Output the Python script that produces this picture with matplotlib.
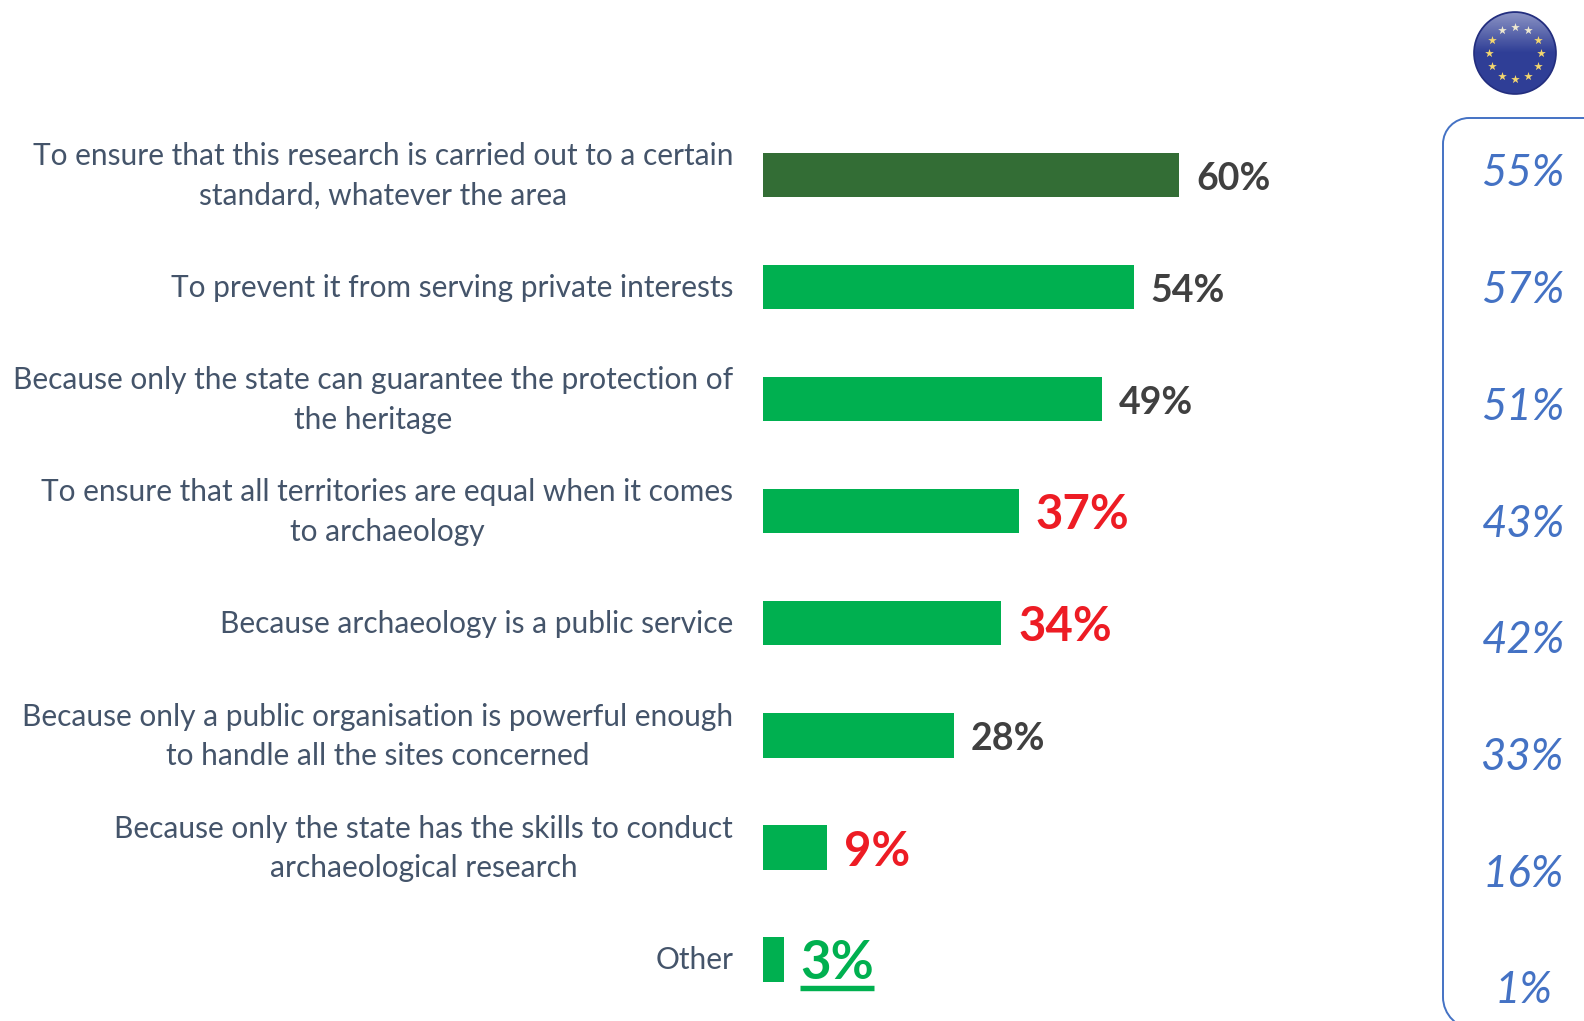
"""Recreated bar chart: reasons for state-led archaeology, with EU comparison column"""

import matplotlib
matplotlib.use("Agg")
import matplotlib.pyplot as plt
import numpy as np
from matplotlib.patches import Circle, PathPatch
from matplotlib.path import Path

categories = [
    "To ensure that this research is carried out to a certain\nstandard, whatever the area",
    "To prevent it from serving private interests",
    "Because only the state can guarantee the protection of\nthe heritage",
    "To ensure that all territories are equal when it comes\nto archaeology",
    "Because archaeology is a public service",
    "Because only a public organisation is powerful enough\nto handle all the sites concerned",
    "Because only the state has the skills to conduct\narchaeological research",
    "Other",
]
# bar lengths as measured, labels show them rounded
values = [60.15, 53.56, 49, 37, 34.44, 27.56, 9.3, 3]
eu_values = [55, 57, 51, 43, 42, 33, 16, 1]

W, H = 1584, 1021
DARK_GREEN = "#336D35"
GREEN = "#00B050"
RED = "#ED1C24"
GREY = "#404040"
LABEL = "#44546A"
BLUE = "#4472C4"

plt.rcParams["font.family"] = ["Lato", "DejaVu Sans"]

bar_colors = [DARK_GREEN] + [GREEN] * 7
value_colors = [GREY, GREY, GREY, RED, RED, GREY, RED, GREEN]
value_sizes = [27, 27, 27, 34, 34, 27, 34, 38]

fig = plt.figure(figsize=(W / 100, H / 100), dpi=100, facecolor="white")

# bar axes covers full height so that bars land on the reference rows
x0, px_per_pct = 763, 6.92
ax = fig.add_axes([x0 / W, 0, 100 * px_per_pct / W, 1])
ax.patch.set_alpha(0)
y = np.arange(len(categories))
top, step = 174.8, 112.1
ax.set_ylim((H - top) / step, -top / step)
ax.set_xlim(0, 100)
ax.barh(y, values, height=44.5 / step, color=bar_colors, linewidth=0)
ax.set_xticks([])
ax.set_yticks([])
for s in ax.spines.values():
    s.set_visible(False)

# category labels, right aligned with each line centred on the block
for i, lab in enumerate(categories):
    ax.annotate(lab, (0, i), xytext=(-21.5, -0.7), textcoords="offset points",
                ha="right", va="center", multialignment="center",
                fontsize=21.5, color=LABEL, linespacing=1.5)

texts = []
for i, v in enumerate(values):
    t = ax.annotate(f"{v:.0f}%", (v, i), xytext=(12, -3), textcoords="offset points",
                    va="center", ha="left", color=value_colors[i],
                    fontsize=value_sizes[i], fontweight="bold")
    texts.append(t)

# overlay in pixel coordinates for the EU column and flag
ov = fig.add_axes([0, 0, 1, 1])
ov.set_xlim(0, W)
ov.set_ylim(H, 0)
ov.axis("off")
ov.patch.set_alpha(0)

# open rounded frame, runs off the right and bottom edges
bx, bt, bb_y, rt, rb, k = 1443, 118, 1029, 26, 32, 0.552
frame = Path(
    [(W + 5, bt), (bx + rt, bt),
     (bx + rt * (1 - k), bt), (bx, bt + rt * (1 - k)), (bx, bt + rt),
     (bx, bb_y - rb),
     (bx, bb_y - rb * (1 - k)), (bx + rb * (1 - k), bb_y), (bx + rb, bb_y)],
    [Path.MOVETO, Path.LINETO,
     Path.CURVE4, Path.CURVE4, Path.CURVE4,
     Path.LINETO,
     Path.CURVE4, Path.CURVE4, Path.CURVE4],
)
ov.add_patch(PathPatch(frame, fc="none", ec=BLUE, lw=1.4))

eu_top, eu_step = 174, 116.7
for i, v in enumerate(eu_values):
    ov.text(1523, eu_top + i * eu_step, f"{v}%", ha="center", va="center",
            color=BLUE, fontsize=31.5, fontstyle="italic")

# EU flag badge
cx, cy, r = 1515, 53, 41
disc = Circle((cx, cy), r, fc="#2F3E96", ec="#232E7E", lw=1.2)
ov.add_patch(disc)
rgba = np.ones((60, 1, 4))
rgba[:, 0, 3] = np.linspace(0.45, 0, 60)
im = ov.imshow(rgba, extent=(cx - r, cx + r, cy, cy - r), aspect="auto", zorder=3)
im.set_clip_path(Circle((cx, cy), r - 1, transform=ov.transData))
ov.set_xlim(0, W)
ov.set_ylim(H, 0)
for ang in np.arange(0, 360, 30):
    sx = cx + 26 * np.sin(np.radians(ang))
    sy = cy - 26 * np.cos(np.radians(ang))
    ov.scatter([sx], [sy], marker="*", s=42, color="#F5D76E" if sy > cy - 15 else "#EFE9D0",
               linewidths=0, zorder=4)

# underline under the green "3%"
fig.canvas.draw()
bb = texts[-1].get_window_extent()
ov.plot([bb.x0, bb.x1], [H - bb.y0, H - bb.y0], color=GREEN, lw=3.9,
        solid_capstyle="butt")

fig.savefig("out.png", dpi=100, facecolor="white")
